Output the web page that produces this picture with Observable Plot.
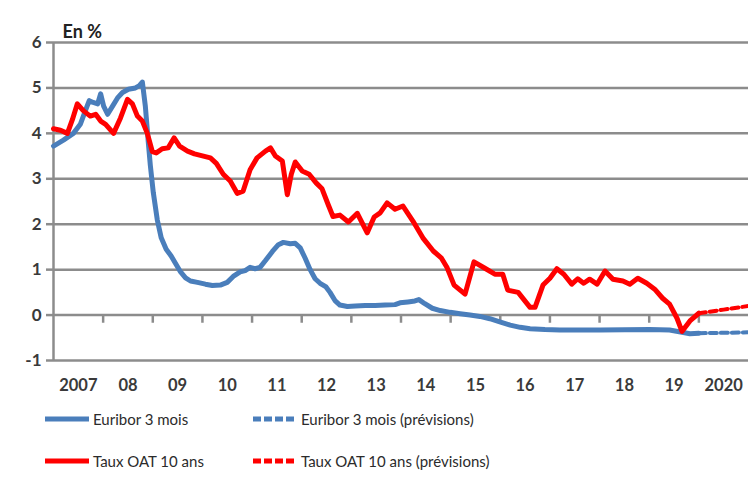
<!DOCTYPE html>
<html>
<head>
<meta charset="utf-8">
<script src="https://cdn.jsdelivr.net/npm/d3@7"></script>
<script src="https://cdn.jsdelivr.net/npm/@observablehq/plot@0.6"></script>
<style>
  html, body { margin: 0; padding: 0; background: #fff; }
  #wrap { position: relative; width: 748px; height: 477px; font-family: Lato, "Open Sans", sans-serif; }
  .leg { position: absolute; display: flex; align-items: center; font-size: 15px; color: #2b2b2b; height: 20px; }
  .leg svg { margin-right: 3px; }
</style>
</head>
<body>
<div id="wrap"><div id="chart"></div><div id="legend"></div></div>
<script>
// ---- Data (decimal years, percent) ----
const euriborYears = [2007.00,2007.20,2007.40,2007.54,2007.66,2007.72,2007.80,2007.89,2007.95,2008.01,2008.09,2008.19,2008.29,2008.39,2008.51,2008.65,2008.73,2008.79,2008.85,2008.91,2008.95,2009.01,2009.09,2009.17,2009.27,2009.37,2009.45,2009.56,2009.66,2009.76,2009.90,2010.06,2010.20,2010.36,2010.50,2010.62,2010.76,2010.86,2010.96,2011.06,2011.16,2011.27,2011.41,2011.53,2011.63,2011.77,2011.87,2011.97,2012.07,2012.17,2012.27,2012.37,2012.49,2012.57,2012.67,2012.77,2012.92,2013.08,2013.28,2013.48,2013.68,2013.88,2013.98,2014.14,2014.28,2014.36,2014.48,2014.63,2014.79,2014.99,2015.19,2015.39,2015.59,2015.79,2015.99,2016.20,2016.40,2016.60,2016.90,2017.20,2018.01,2019.01,2019.41,2019.66,2019.82,2020.00];
const euriborValues = [3.72,3.85,4.00,4.20,4.55,4.72,4.68,4.65,4.87,4.60,4.42,4.60,4.78,4.90,4.97,5.00,5.05,5.13,4.60,3.80,3.30,2.70,2.10,1.70,1.45,1.30,1.15,0.95,0.82,0.75,0.72,0.68,0.65,0.66,0.72,0.85,0.95,0.98,1.05,1.02,1.05,1.20,1.40,1.55,1.60,1.57,1.58,1.48,1.25,1.00,0.80,0.70,0.62,0.50,0.32,0.22,0.19,0.20,0.21,0.21,0.22,0.23,0.27,0.29,0.31,0.34,0.25,0.15,0.10,0.06,0.03,0.00,-0.03,-0.08,-0.15,-0.22,-0.27,-0.30,-0.32,-0.33,-0.33,-0.32,-0.33,-0.38,-0.41,-0.40];

const oatYears = [2007.00,2007.14,2007.28,2007.38,2007.48,2007.60,2007.74,2007.85,2007.95,2008.05,2008.21,2008.35,2008.49,2008.59,2008.69,2008.79,2008.89,2008.99,2009.07,2009.19,2009.31,2009.43,2009.54,2009.70,2009.84,2010.02,2010.16,2010.28,2010.42,2010.56,2010.70,2010.82,2010.96,2011.10,2011.27,2011.37,2011.47,2011.61,2011.71,2011.79,2011.87,2012.01,2012.15,2012.29,2012.41,2012.53,2012.63,2012.77,2012.94,2013.12,2013.32,2013.46,2013.58,2013.72,2013.88,2014.04,2014.24,2014.44,2014.65,2014.81,2014.93,2015.07,2015.29,2015.47,2015.69,2015.89,2016.05,2016.15,2016.36,2016.60,2016.70,2016.86,2017.00,2017.14,2017.28,2017.44,2017.56,2017.68,2017.80,2017.95,2018.11,2018.27,2018.47,2018.61,2018.77,2018.95,2019.11,2019.27,2019.41,2019.56,2019.66,2019.82,2020.00];
const oatValues = [4.10,4.07,4.00,4.30,4.65,4.50,4.38,4.42,4.27,4.20,4.00,4.34,4.75,4.65,4.38,4.27,4.00,3.60,3.57,3.66,3.68,3.90,3.72,3.61,3.55,3.50,3.46,3.34,3.10,2.95,2.68,2.73,3.20,3.46,3.61,3.68,3.50,3.39,2.65,3.10,3.37,3.17,3.10,2.91,2.78,2.44,2.17,2.20,2.05,2.24,1.81,2.16,2.25,2.47,2.33,2.40,2.07,1.70,1.41,1.26,1.04,0.66,0.46,1.17,1.03,0.90,0.90,0.55,0.50,0.17,0.17,0.66,0.81,1.02,0.90,0.68,0.80,0.70,0.79,0.68,0.97,0.79,0.75,0.68,0.81,0.70,0.57,0.37,0.24,-0.07,-0.36,-0.13,0.04];

const euriborForecastYears = [2020.00, 2020.50, 2021.00];
const euriborForecastValues = [-0.40, -0.39, -0.38];
const oatForecastYears = [2020.00, 2020.50, 2021.00];
const oatForecastValues = [0.04, 0.12, 0.20];

const yTicks = [-1, 0, 1, 2, 3, 4, 5, 6];
const yearTicks = [2008,2009,2010,2011,2012,2013,2014,2015,2016,2017,2018,2019,2020];
const yearLabelPos = [2007,2008,2009,2010,2011,2012,2013,2014,2015,2016,2017,2018,2019,2020];
const yearLabels = ["2007","08","09","10","11","12","13","14","15","16","17","18","19","2020"];

const seriesNames = ["Euribor 3 mois", "Euribor 3 mois (prévisions)", "Taux OAT 10 ans", "Taux OAT 10 ans (prévisions)"];

// ---- Build tables ----
const zip = (xs, ys) => xs.map((t, i) => ({t, v: ys[i]}));
const eur = zip(euriborYears, euriborValues);
const oat = zip(oatYears, oatValues);
const eurF = zip(euriborForecastYears, euriborForecastValues);
const oatF = zip(oatForecastYears, oatForecastValues);

const BLUE = "#4a7ebb";
const RED = "#ff0000";
const GRID = "#8c8c8c";
const TXT = "#3a3a3a";

const chart = Plot.plot({
  width: 748,
  height: 400,
  marginLeft: 53,
  marginRight: 0,
  marginTop: 42,
  marginBottom: 40,
  x: {domain: [2007, 2021], axis: null},
  y: {domain: [-1, 6], axis: null},
  style: {fontFamily: "Lato, 'Open Sans', sans-serif", background: "white", overflow: "visible"},
  marks: [
    Plot.ruleY(yTicks, {stroke: GRID, strokeWidth: 2.5}),
    Plot.ruleX([2007], {y1: -1, y2: 6, stroke: GRID, strokeWidth: 2.5}),
    Plot.axisY(yTicks, {anchor: "left", tickSize: 7, tickPadding: 5, stroke: GRID, strokeWidth: 2.5,
      fill: TXT, fontSize: 17, fontWeight: "bold", tickFormat: d => String(d), label: null}),
    Plot.ruleX(yearTicks, {y1: 0, y2: -0.18, stroke: GRID, strokeWidth: 2.5}),
    Plot.text(yearLabelPos, {x: d => d + 0.5, y: -1, dy: 25, text: (d, i) => yearLabels[i],
      fill: TXT, fontSize: 16.5, fontWeight: "bold", textAnchor: "middle"}),
    Plot.text(["En %"], {frameAnchor: "top-left", dx: 9, dy: -17, fill: "#222", fontSize: 18, fontWeight: "bold", textAnchor: "start"}),
    Plot.line(eur, {x: "t", y: "v", stroke: BLUE, strokeWidth: 5, curve: "linear", strokeLinejoin: "round"}),
    Plot.line(eurF, {x: "t", y: "v", stroke: BLUE, strokeWidth: 4, strokeDasharray: "7,4"}),
    Plot.line(oat, {x: "t", y: "v", stroke: RED, strokeWidth: 5, curve: "linear", strokeLinejoin: "round"}),
    Plot.line(oatF, {x: "t", y: "v", stroke: RED, strokeWidth: 4, strokeDasharray: "7,4"})
  ]
});
document.getElementById("chart").appendChild(chart);

// ---- Legend ----
const legendItems = [
  {name: seriesNames[0], color: BLUE, dash: null, left: 45, top: 409},
  {name: seriesNames[1], color: BLUE, dash: "8,3", left: 253, top: 409},
  {name: seriesNames[2], color: RED, dash: null, left: 45, top: 451},
  {name: seriesNames[3], color: RED, dash: "8,3", left: 253, top: 451}
];
const legend = document.getElementById("legend");
for (const it of legendItems) {
  const d = document.createElement("div");
  d.className = "leg";
  d.style.left = it.left + "px";
  d.style.top = it.top + "px";
  d.innerHTML = `<svg width="45" height="10"><line x1="0" y1="5" x2="44" y2="5" stroke="${it.color}" stroke-width="5" ${it.dash ? `stroke-dasharray="${it.dash}"` : ""}/></svg><span>${it.name}</span>`;
  legend.appendChild(d);
}
</script>
</body>
</html>
